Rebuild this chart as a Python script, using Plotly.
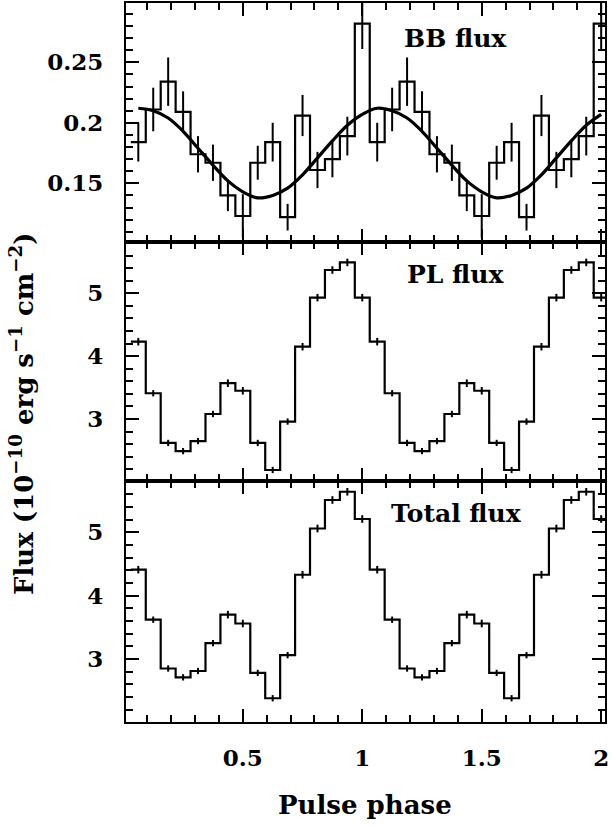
import plotly.graph_objects as go

# ---------------- data (16 phase bins per cycle, shown twice) ----------------
phase_centers = [0.0625, 0.125, 0.1875, 0.25, 0.3125, 0.375, 0.4375, 0.5,
                 0.5625, 0.625, 0.6875, 0.75, 0.8125, 0.875, 0.9375, 1.0]
bb_flux = [0.184, 0.211, 0.234, 0.209, 0.174, 0.167, 0.140, 0.123,
           0.167, 0.184, 0.122, 0.206, 0.161, 0.170, 0.189, 0.282]
bb_err = [0.016, 0.018, 0.020, 0.017, 0.015, 0.015, 0.013, 0.018,
          0.014, 0.016, 0.011, 0.017, 0.015, 0.015, 0.016, 0.021]
bb_model = [0.212, 0.210, 0.204, 0.193, 0.179, 0.165, 0.152, 0.143,
            0.138, 0.140, 0.146, 0.157, 0.171, 0.185, 0.198, 0.207]
pl_flux = [4.23, 3.41, 2.62, 2.49, 2.65, 3.08, 3.57, 3.45,
           2.62, 2.19, 2.96, 4.15, 4.93, 5.37, 5.49, 4.93]
pl_err = [0.06, 0.05, 0.05, 0.05, 0.05, 0.05, 0.06, 0.06,
          0.05, 0.05, 0.05, 0.06, 0.06, 0.06, 0.06, 0.06]
tot_flux = [4.41, 3.62, 2.85, 2.71, 2.81, 3.25, 3.70, 3.56,
            2.78, 2.38, 3.06, 4.33, 5.06, 5.51, 5.64, 5.21]
tot_err = [0.06, 0.05, 0.05, 0.05, 0.05, 0.05, 0.06, 0.06,
           0.05, 0.05, 0.05, 0.06, 0.06, 0.06, 0.06, 0.06]
n_cycles = 2
bin_width = 0.0625

# axis tick steps (major, minor)
x_major, x_minor = 0.5, 0.1
bb_major, bb_minor = 0.05, 0.01
pl_major, pl_minor = 1, 0.2
tot_major, tot_minor = 1, 0.2

# ---------------- build ----------------
def two_cycles(vals):
    return list(vals) * n_cycles

centers = [c + k for k in range(n_cycles) for c in phase_centers]

def step_xy(vals):
    v = two_cycles(vals)
    xs = [c - bin_width / 2 for c in centers] + [centers[-1] + bin_width / 2]
    ys = v + [v[-1]]
    return xs, ys

FONT = "DejaVu Serif"
BLACK = "black"

fig = go.Figure()

panels = [
    ("y3", "x3", bb_flux, bb_err),
    ("y2", "x2", pl_flux, pl_err),
    ("y", "x", tot_flux, tot_err),
]
for yref, xref, vals, errs in panels:
    xs, ys = step_xy(vals)
    fig.add_trace(go.Scatter(x=xs, y=ys, mode="lines", line=dict(color=BLACK, width=2.2, shape="hv"),
                             xaxis=xref, yaxis=yref, showlegend=False, hoverinfo="skip"))
    fig.add_trace(go.Scatter(x=centers, y=two_cycles(vals), mode="markers",
                             marker=dict(size=1, color=BLACK, opacity=0),
                             error_y=dict(type="data", array=two_cycles(errs), color=BLACK, thickness=2, width=0),
                             xaxis=xref, yaxis=yref, showlegend=False, hoverinfo="skip"))

fig.add_trace(go.Scatter(x=centers, y=two_cycles(bb_model), mode="lines",
                         line=dict(color=BLACK, width=3.2, shape="spline", smoothing=1.0),
                         xaxis="x3", yaxis="y3", showlegend=False, hoverinfo="skip"))

L, R, T, B = 126, 10, 3, 108
W = 615 - L - R
H = 830 - T - B
d1 = (722 - 481) / H
d2 = (722 - 242) / H

tickfont = dict(family=FONT, size=23, color=BLACK, weight="bold")
xr = [0.011, 2.016]

def minor(d):
    return dict(dtick=d, tick0=0, ticks="inside", ticklen=7, tickwidth=2, tickcolor=BLACK)

def xaxis_common(show_labels):
    return dict(range=xr, showline=True, linecolor=BLACK, linewidth=2, mirror="allticks",
                ticks="inside", ticklen=13, tickwidth=2, tickcolor=BLACK,
                tickmode="linear", tick0=0, dtick=x_major, showticklabels=show_labels,
                tickfont=tickfont, ticklabelstandoff=14, minor=minor(x_minor),
                showgrid=False, zeroline=False, automargin=False)

def yaxis_common(rng, major, minor_d, domain):
    return dict(range=rng, domain=domain, showline=True, linecolor=BLACK, linewidth=2, mirror="allticks",
                ticks="inside", ticklen=13, tickwidth=2, tickcolor=BLACK,
                tickmode="linear", tick0=0, dtick=major, tickfont=tickfont, ticksuffix="  ",
                minor=minor(minor_d), showgrid=False, zeroline=False, automargin=False)

fig.update_layout(
    template="none",
    width=615, height=830,
    margin=dict(l=L, r=R, t=T, b=B, pad=0, autoexpand=False),
    paper_bgcolor="white", plot_bgcolor="white",
    xaxis=dict(anchor="y", **xaxis_common(True)),
    xaxis2=dict(anchor="y2", matches="x", **xaxis_common(False)),
    xaxis3=dict(anchor="y3", matches="x", **xaxis_common(False)),
    yaxis=dict(anchor="x", **yaxis_common([2.005, 5.81], tot_major, tot_minor, [0, d1])),
    yaxis2=dict(anchor="x2", **yaxis_common([2.015, 5.815], pl_major, pl_minor, [d1, d2])),
    yaxis3=dict(anchor="x3", **yaxis_common([0.1015, 0.299], bb_major, bb_minor, [d2, 1])),
)

labfont = dict(family=FONT, size=25, color=BLACK, weight="bold")
fig.add_annotation(x=1.39, y=0.27, xref="x3", yref="y3", text="BB flux", showarrow=False, font=labfont)
fig.add_annotation(x=1.39, y=5.3, xref="x2", yref="y2", text="PL flux", showarrow=False, font=labfont)
fig.add_annotation(x=1.395, y=5.29, xref="x", yref="y", text="Total flux", showarrow=False, font=labfont)

titlefont = dict(family=FONT, size=26, color=BLACK, weight="bold")
fig.add_annotation(x=(365 - L) / W, y=-(805 - 722) / H, xref="paper", yref="paper",
                   text="Pulse phase", showarrow=False, font=titlefont, yanchor="middle")
fig.add_annotation(x=-(126 - 22) / W, y=(722 - 414) / H, xref="paper", yref="paper",
                   text="Flux (10<sup>\u221210</sup> erg s<sup>\u22121</sup> cm<sup>\u22122</sup>)",
                   textangle=-90, showarrow=False, font=titlefont, xanchor="center", yanchor="middle")

fig.write_html("out.html", config={"displayModeBar": False, "staticPlot": True},
               post_script="document.body.style.margin='0px';")
